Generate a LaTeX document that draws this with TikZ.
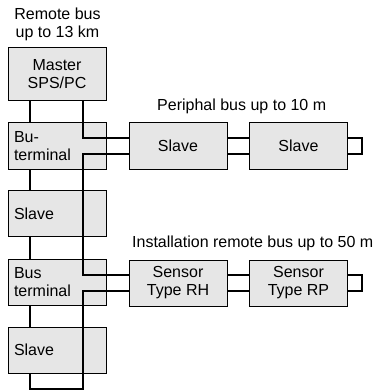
\documentclass[tikz,border=0pt]{standalone}
\usepackage{fontspec}
\setmainfont{Liberation Sans}
\definecolor{boxgray}{RGB}{230,230,230}

\begin{document}
\begin{tikzpicture}[
    x=1pt, y=-1pt,
    font=\fontsize{16}{18}\selectfont,
    box/.style={draw, line width=1pt, fill=boxgray, minimum width=98pt, minimum height=46pt, inner sep=0pt, align=center},
    leftbox/.style={box, text width=86pt, align=left},
    bus/.style={line width=2pt}
]
    \path[use as bounding box] (0,0) rectangle (376,390);

    % Columna izquierda (bus remoto)
    \node[box, minimum height=53pt] (master) at (57,74.5) {Master\\SPS/PC};
    \node[leftbox] (buterm) at (57,146) {Bu-\\terminal};
    \node[leftbox] (slavea) at (57,213.5) {Slave};
    \node[leftbox] (busterm) at (57,282.5) {Bus\\terminal};
    \node[leftbox] (slaveb) at (57,350) {Slave};

    % Bus periferico y bus de instalacion
    \node[box] (pslavea) at (178,146) {Slave};
    \node[box] (pslaveb) at (298.5,146) {Slave};
    \node[box] (sensorrh) at (178,283) {Sensor\\Type RH};
    \node[box] (sensorrp) at (298.5,283) {Sensor\\Type RP};

    % Textos
    \node[align=center] (remote) at (57.5,24) {Remote bus\\up to 13 km};
    \node[anchor=base west, inner sep=0pt] (periph) at (157,111) {Periphal bus up to 10 m};
    \node[anchor=base west, inner sep=0pt] (install) at (132,247) {Installation remote bus up to 50 m};

    \coordinate (lrail) at (30,0);
    \coordinate (rrail) at (83,0);

    % Linea izquierda entre las cajas
    \draw[bus] (master.south -| lrail) -- (buterm.north -| lrail);
    \draw[bus] (buterm.south -| lrail) -- (slavea.north -| lrail);
    \draw[bus] (slavea.south -| lrail) -- (busterm.north -| lrail);
    \draw[bus] (busterm.south -| lrail) -- (slaveb.north -| lrail);

    % Linea derecha que pasa por las cajas
    \draw[bus] (master.south -| rrail) |- ([yshift=7.5pt]pslavea.west);
    \draw[bus] ([yshift=-7.5pt]pslavea.west) -- ++(-46,0) |- ([yshift=8pt]sensorrh.west);
    \draw[bus] ([yshift=-8pt]sensorrh.west) -- ++(-46,0) |- ([yshift=-15pt]slaveb.south) -| (slaveb.south -| lrail);

    % Bus periferico
    \draw[bus] ([yshift=7.5pt]pslavea.east) -- ([yshift=7.5pt]pslaveb.west);
    \draw[bus] ([yshift=-7.5pt]pslavea.east) -- ([yshift=-7.5pt]pslaveb.west);
    \draw[bus] ([yshift=7.5pt]pslaveb.east) -- ++(14,0) |- ([yshift=-7.5pt]pslaveb.east);

    % Bus de instalacion
    \draw[bus] ([yshift=8pt]sensorrh.east) -- ([yshift=8pt]sensorrp.west);
    \draw[bus] ([yshift=-8pt]sensorrh.east) -- ([yshift=-8pt]sensorrp.west);
    \draw[bus] ([yshift=8pt]sensorrp.east) -- ++(14,0) |- ([yshift=-8pt]sensorrp.east);
\end{tikzpicture}
\end{document}
